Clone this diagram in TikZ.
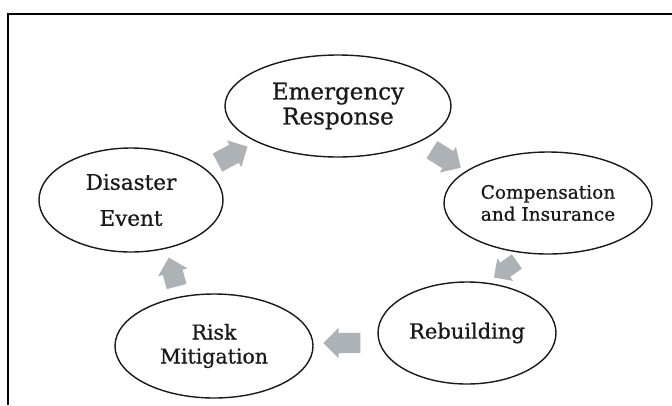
\documentclass[tikz,border=0pt]{standalone}
\usepackage{fontspec}
\setmainfont[FakeBold=0.7]{DejaVu Serif}
\usetikzlibrary{shapes.geometric,shapes.arrows}
\definecolor{arrowgray}{RGB}{172,178,181}
\definecolor{inkblack}{RGB}{25,25,25}
\tikzset{
  stage/.style={ellipse, draw=inkblack, line width=1.4pt, inner sep=0pt, align=center, text=inkblack},
  blockarrow/.style={single arrow, fill=arrowgray, draw=none, inner sep=0pt,
    minimum height=34pt, single arrow head extend=5pt, single arrow head indent=0pt},
}
\newcommand{\shaftA}{\rule{0pt}{20pt}}
\newcommand{\shaftB}{\rule{0pt}{17pt}}
\begin{document}
\begin{tikzpicture}[x=1pt,y=-1pt]
\useasboundingbox (0,0) rectangle (672,405);
\fill[white] (0,0) rectangle (672,405);
\draw[line width=2.2pt, black] (8,405) -- (8,14) -- (672,14);

\node[stage, minimum width=226pt, minimum height=102pt, font=\fontsize{23}{25}\selectfont]
  (emerg) at (338,106) {Emergency\\Response};
\node[stage, minimum width=184pt, minimum height=104pt, font=\fontsize{21.5}{25}\selectfont]
  (disaster) at (131,200) {Disaster\\[11pt]Event};
\node[stage, minimum width=208pt, minimum height=102pt, font=\fontsize{18.5}{22}\selectfont]
  (comp) at (548,203) {Compensation\\and Insurance};
\node[stage, minimum width=178pt, minimum height=102pt, font=\fontsize{21}{25}\selectfont]
  (rebuild) at (467,333) {Rebuilding};
\node[stage, minimum width=198pt, minimum height=104pt, font=\fontsize{20.5}{24}\selectfont]
  (risk) at (214,346) {Risk\\Mitigation};

\node[blockarrow, rotate=28] (a1) at (228,157) {\shaftA};
\node[blockarrow, rotate=-32] (a2) at (442,156) {\shaftA};
\node[blockarrow, rotate=-145, minimum height=28pt] (a3) at (509,267) {\shaftB};
\node[blockarrow, rotate=180, minimum height=37pt] (a4) at (347,343) {\shaftA};
\node[blockarrow, rotate=105, minimum height=30pt] (a5) at (174,277) {\shaftA};
\end{tikzpicture}
\end{document}
